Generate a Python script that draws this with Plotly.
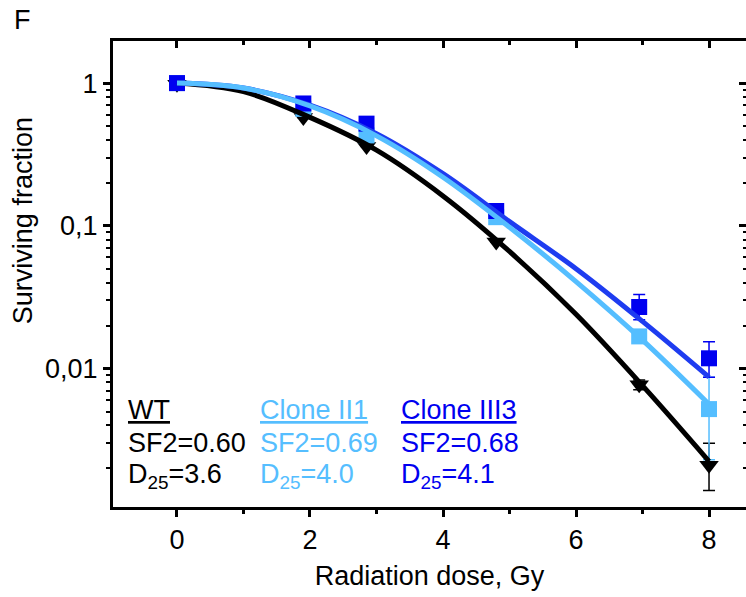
import plotly.graph_objects as go

# ---------------- data ----------------
dose_pts = [0, 1.9, 2.85, 4.8, 6.95, 8]

wt_sf = [0.98, 0.575, 0.36, 0.077, 0.0077, 0.0021]
wt_err_up = [0, 0, 0, 0, 0.0006, 0.0009]
wt_err_dn = [0, 0, 0, 0, 0.0006, 0.0007]

ii1_sf = [1.0, 0.66, 0.43, 0.115, 0.0168, 0.0052]
ii1_err_up = [0, 0, 0, 0, 0, 0.0035]
ii1_err_dn = [0, 0, 0, 0, 0, 0.0029]

iii3_sf = [1.0, 0.72, 0.52, 0.127, 0.027, 0.0118]
iii3_err_up = [0, 0, 0, 0.006, 0.006, 0.0036]
iii3_err_dn = [0, 0, 0, 0.006, 0.005, 0.0031]

# fitted curves at integer doses
fit_dose = [0, 1, 2, 3, 4, 5, 6, 7, 8]
wt_fit = [1.0, 0.871, 0.575, 0.339, 0.162, 0.0661, 0.0240, 0.00759, 0.00224]
ii1_fit = [1.0, 0.923, 0.692, 0.427, 0.219, 0.0977, 0.0407, 0.0158, 0.00562]
iii3_fit = [1.0, 0.923, 0.700, 0.442, 0.232, 0.107, 0.0501, 0.0214, 0.00871]

x_ticks = [0, 2, 4, 6, 8]
x_minor = [1, 3, 5, 7]
y_ticks = [0.01, 0.1, 1]
y_ticktext = ["0,01", "0,1", "1"]

labels = ["WT", "Clone II1", "Clone III3"]
sf2_text = ["SF2=0.60", "SF2=0.69", "SF2=0.68"]
d25_text = ["3.6", "4.0", "4.1"]

# ---------------- style ----------------
BLACK = "#000000"
LIGHT = "#55BEFF"
DARK_M = "#0000F0"
DARK_L = "#1E3CF0"
FONT = "Liberation Sans, Arial, sans-serif"
FS = 27

X_RANGE = [-0.962, 8.556]
Y_RANGE = [-2.97, 0.295]

y_minor = [m * 10 ** e for e in (-3, -2, -1, 0) for m in range(2, 10) if m * 10 ** e < 2]

fig = go.Figure()

def pts(y, up, dn, color, symbol, size):
    return go.Scatter(
        x=dose_pts, y=y, mode="markers",
        marker=dict(symbol=symbol, size=size, color=color, line=dict(width=0)),
        error_y=dict(type="data", symmetric=False, array=up, arrayminus=dn,
                     color=color, thickness=1.5, width=6),
        hoverinfo="skip",
    )

fig.add_trace(pts(wt_sf, wt_err_up, wt_err_dn, BLACK, "triangle-down", 17))
fig.add_trace(pts(ii1_sf, ii1_err_up, ii1_err_dn, LIGHT, "square", 16))
fig.add_trace(pts(iii3_sf, iii3_err_up, iii3_err_dn, DARK_M, "square", 16))

for yv, col in ((wt_fit, BLACK), (iii3_fit, DARK_L), (ii1_fit, LIGHT)):
    fig.add_trace(go.Scatter(x=fit_dose, y=yv, mode="lines",
                             line=dict(color=col, width=5, shape="spline", smoothing=1.0),
                             hoverinfo="skip"))

# dummy trace for mirror axes
fig.add_trace(go.Scatter(x=[0], y=[1], xaxis="x2", yaxis="y2", mode="markers",
                         marker=dict(opacity=0), hoverinfo="skip"))

fig.update_layout(
    width=746, height=597,
    margin=dict(l=113, r=0, t=41, b=90),
    plot_bgcolor="white", paper_bgcolor="white",
    showlegend=False,
    font=dict(family=FONT, size=FS, color="black"),
    xaxis=dict(range=X_RANGE, showline=True, linewidth=3, linecolor="black",
               ticks="outside", ticklen=7, tickwidth=2.5, tickcolor="black",
               tickvals=x_ticks, showgrid=False, zeroline=False,
               minor=dict(ticks="outside", ticklen=4, tickwidth=2.5, tickcolor="black",
                          tickvals=x_minor),
               tickfont=dict(size=FS),
               title=dict(text="Radiation dose, Gy", font=dict(size=FS), standoff=12)),
    xaxis2=dict(range=X_RANGE, overlaying="x", side="top", showline=True, linewidth=3,
                linecolor="black", ticks="inside", ticklen=7, tickwidth=2.5,
                tickcolor="black", tickvals=x_ticks, showticklabels=False,
                showgrid=False, zeroline=False,
                minor=dict(ticks="inside", ticklen=4, tickwidth=2.5, tickcolor="black",
                           tickvals=x_minor)),
    yaxis=dict(type="log", range=Y_RANGE, showline=True, linewidth=3, linecolor="black",
               ticks="outside", ticklen=7, tickwidth=2.5, tickcolor="black",
               tickvals=y_ticks, ticktext=y_ticktext, showgrid=False, zeroline=False,
               minor=dict(ticks="outside", ticklen=4, tickwidth=2, tickcolor="black",
                          tickvals=y_minor),
               tickfont=dict(size=FS)),
    yaxis2=dict(type="log", range=Y_RANGE, overlaying="y", side="right", showline=False,
                ticks="inside", ticklen=7, tickwidth=2.5, tickcolor="black",
                tickvals=y_ticks, showticklabels=False, showgrid=False, zeroline=False,
                minor=dict(ticks="inside", ticklen=3, tickwidth=2, tickcolor="black",
                           tickvals=y_minor)),
)

# y-axis title
fig.add_annotation(text="Surviving fraction", xref="paper", yref="paper",
                   x=-0.141, y=0.615, textangle=-90, showarrow=False,
                   font=dict(size=FS), xanchor="center", yanchor="middle")
# panel letter
fig.add_annotation(text="F", xref="paper", yref="paper", x=-0.143, y=1.045,
                   showarrow=False, font=dict(size=FS), xanchor="center", yanchor="middle")

cols_x = [0.021, 0.2296, 0.4524]
cols_c = [BLACK, LIGHT, DARK_M]
for i in range(3):
    fig.add_annotation(text='<span style="text-decoration:underline">%s</span>' % labels[i],
                       xref="paper", yref="paper", x=cols_x[i], y=0.208,
                       showarrow=False, xanchor="left", yanchor="middle",
                       font=dict(size=FS, color=cols_c[i]))
    fig.add_annotation(text=sf2_text[i], xref="paper", yref="paper", x=cols_x[i], y=0.137,
                       showarrow=False, xanchor="left", yanchor="middle",
                       font=dict(size=FS, color=cols_c[i]))
    fig.add_annotation(text="D<sub>25</sub>=" + d25_text[i], xref="paper", yref="paper",
                       x=cols_x[i], y=0.066, showarrow=False, xanchor="left",
                       yanchor="middle", font=dict(size=FS, color=cols_c[i]))

fig.write_html("out.html")
